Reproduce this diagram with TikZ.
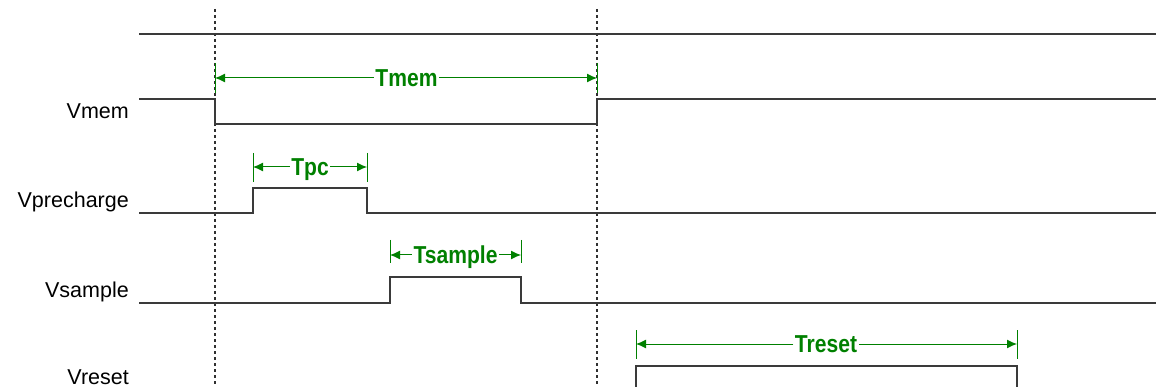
\documentclass[tikz,border=0pt]{standalone}
\usepackage{fontspec}
\setmainfont{Liberation Sans}
\usetikzlibrary{arrows.meta}
\definecolor{wavec}{HTML}{3A3A3A}
\definecolor{guidec}{HTML}{303030}
\definecolor{dimgreen}{HTML}{008000}
\newcommand{\dimtext}[1]{\scalebox{0.86}[1]{#1}}
\begin{document}
\begin{tikzpicture}[x=1pt,y=-1pt,
  wave/.style={draw=wavec, line width=1.4pt},
  guide/.style={draw=guidec, line width=1.1pt, dash pattern=on 3pt off 3pt},
  tickmark/.style={draw=dimgreen, line width=1pt},
  dimarrow/.style={draw=dimgreen, line width=1pt, -{Latex[length=10pt,width=9pt]}},
  dimlabel/.style={text=dimgreen, font=\fontsize{24.5}{28}\selectfont\bfseries,
    inner sep=1.5pt, text height=17.5pt, text depth=0pt},
  siglabel/.style={anchor=base east, font=\fontsize{21.5}{24}\selectfont, inner sep=0pt}]
\useasboundingbox (0,0) rectangle (1156,387);

% guide lines
\draw[guide] (215,9) -- (215,387);
\draw[guide] (597,9) -- (597,387);

% waveforms
\draw[wave] (139,34) -- (1156,34);
\draw[wave] (139,99) -- (215,99) -- (215,124) -- (597,124) -- (597,99) -- (1156,99);
\draw[wave] (139,213) -- (253,213) -- (253,188) -- (367,188) -- (367,213) -- (1156,213);
\draw[wave] (139,303) -- (390,303) -- (390,277) -- (521,277) -- (521,303) -- (1156,303);
\draw[wave] (636,392) -- (636,366) -- (1017,366) -- (1017,392);

% signal labels
\node[siglabel] (vmem) at (129,119) {Vmem};
\node[siglabel] (vpre) at (129,208) {Vprecharge};
\node[siglabel] (vsam) at (129,298) {Vsample};
\node[siglabel] (vres) at (129,384) {Vreset};

% dimension coordinates
\coordinate (mL) at (215,78);
\coordinate (mR) at (597,78);
\coordinate (pL) at (253,167);
\coordinate (pR) at (367,167);
\coordinate (sL) at (390,255);
\coordinate (sR) at (521,255);
\coordinate (rL) at (636,344);
\coordinate (rR) at (1017,344);

% ticks
\draw[tickmark] ([yshift=15pt]mL) -- ([yshift=-15pt]mL);
\draw[tickmark] ([yshift=15pt]mR) -- ([yshift=-15pt]mR);
\draw[tickmark] ([yshift=14pt]pL) -- ([yshift=-15pt]pL);
\draw[tickmark] ([yshift=14pt]pR) -- ([yshift=-15pt]pR);
\draw[tickmark] ([yshift=15pt]sL) -- ([yshift=-8pt]sL);
\draw[tickmark] ([yshift=15pt]sR) -- ([yshift=-8pt]sR);
\draw[tickmark] ([yshift=14pt]rL) -- ([yshift=-15pt]rL);
\draw[tickmark] ([yshift=14pt]rR) -- ([yshift=-15pt]rR);

% dimension labels
\node[dimlabel] (tmem) at (406.5,78) {\dimtext{Tmem}};
\node[dimlabel] (tpc) at (310,167) {\dimtext{Tpc}};
\node[dimlabel] (tsam) at (455.5,255) {\dimtext{Tsample}};
\node[dimlabel] (tres) at (826,344) {\dimtext{Treset}};

\draw[dimarrow] (tmem) -- (mL);
\draw[dimarrow] (tmem) -- (mR);
\draw[dimarrow] (tpc) -- (pL);
\draw[dimarrow] (tpc) -- (pR);
\draw[dimarrow] (tsam) -- (sL);
\draw[dimarrow] (tsam) -- (sR);
\draw[dimarrow] (tres) -- (rL);
\draw[dimarrow] (tres) -- (rR);
\end{tikzpicture}
\end{document}
